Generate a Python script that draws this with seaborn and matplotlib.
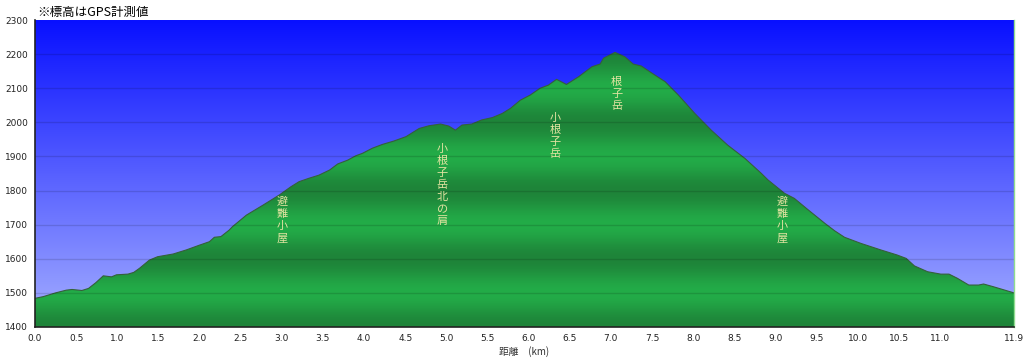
import numpy as np
import matplotlib
matplotlib.use("Agg")
import matplotlib.pyplot as plt
from matplotlib.path import Path
import seaborn as sns

# 距離 (km) と標高 (m)
dist_km = [0.00, 0.10, 0.25, 0.38, 0.45, 0.57, 0.65, 0.74, 0.83, 0.93, 0.99, 1.13, 1.20,
           1.27, 1.39, 1.49, 1.68, 1.84, 2.00, 2.12, 2.18, 2.26, 2.36, 2.40, 2.57, 2.77,
           2.97, 3.11, 3.21, 3.33, 3.45, 3.58, 3.68, 3.80, 3.90, 3.98, 4.10, 4.22, 4.36,
           4.51, 4.67, 4.79, 4.93, 5.03, 5.11, 5.19, 5.31, 5.43, 5.56, 5.68, 5.78, 5.90,
           6.02, 6.14, 6.24, 6.34, 6.46, 6.61, 6.77, 6.87, 6.91, 7.05, 7.17, 7.27, 7.37,
           7.50, 7.66, 7.82, 8.02, 8.22, 8.42, 8.63, 8.83, 8.91, 9.11, 9.23, 9.39, 9.60,
           9.72, 9.84, 10.04, 10.28, 10.48, 10.59, 10.69, 10.85, 11.01, 11.11, 11.21,
           11.35, 11.47, 11.53, 11.65, 11.90]
elev_m = [1484, 1489, 1500, 1508, 1510, 1507, 1513, 1530, 1550, 1547, 1553, 1555, 1560,
          1572, 1596, 1606, 1614, 1626, 1640, 1650, 1663, 1665, 1684, 1694, 1728, 1757,
          1787, 1811, 1826, 1836, 1845, 1860, 1878, 1889, 1902, 1909, 1924, 1935, 1945,
          1958, 1982, 1990, 1995, 1989, 1977, 1992, 1995, 2007, 2014, 2026, 2041, 2065,
          2080, 2100, 2109, 2126, 2111, 2134, 2163, 2171, 2188, 2205, 2192, 2171, 2165,
          2144, 2119, 2080, 2026, 1977, 1933, 1894, 1850, 1831, 1792, 1777, 1745, 1704,
          1682, 1663, 1645, 1626, 1611, 1601, 1579, 1562, 1555, 1555, 1543,
          1523, 1523, 1526, 1518, 1500]

# 地点名
place_names = ["避難小屋", "小根子岳北の肩", "小根子岳", "根子岳", "避難小屋"]
place_x = [3.0, 4.95, 6.32, 7.07, 9.08]
place_top = [1784, 1939, 2030, 2136, 1784]

x_ticks = [0.0, 0.5, 1.0, 1.5, 2.0, 2.5, 3.0, 3.5, 4.0, 4.5, 5.0, 5.5, 6.0, 6.5, 7.0,
           7.5, 8.0, 8.5, 9.0, 9.5, 10.0, 10.5, 11.0, 11.9]
y_ticks = [1400, 1500, 1600, 1700, 1800, 1900, 2000, 2100, 2200, 2300]

sns.set_style("white")
plt.rcParams['font.family'] = ['Noto Sans CJK JP', 'DejaVu Sans']

fig = plt.figure(figsize=(10.25, 3.58), dpi=100)
ax = fig.add_axes([35 / 1025, 1 - 327 / 358, 979 / 1025, 307 / 358])

xmin, xmax, ymin, ymax = 0, 11.9, 1400, 2300

# 背景（青のグラデーション）
t = np.linspace(0, 1, 256)[:, None]
top_c = np.array([8, 16, 255]) / 255
bot_c = np.array([165, 175, 255]) / 255
bg = (top_c * (1 - t) + bot_c * t)[:, None, :]
ax.imshow(bg, extent=[xmin, xmax, ymin, ymax], aspect="auto", zorder=0,
          interpolation="bilinear")

# 緑の帯（200 m周期の明暗）
e = np.linspace(ymax, ymin, 600)[:, None]
k = 0.5 + 0.5 * np.cos(np.pi * (e - 1500) / 100)
light = np.array([35, 172, 72]) / 255
dark = np.array([30, 132, 57]) / 255
green = (dark * (1 - k) + light * k)[:, None, :]

verts = np.vstack([np.column_stack([dist_km, elev_m]),
                   [[dist_km[-1], ymin], [dist_km[0], ymin]]])
im = ax.imshow(green, extent=[xmin, xmax, ymin, ymax], aspect="auto", zorder=1,
               interpolation="bilinear")
im.set_clip_path(Path(verts), transform=ax.transData)

sns.lineplot(x=dist_km, y=elev_m, color="#35603a", linewidth=0.8, ax=ax, zorder=2)

# グリッド
for yv in y_ticks[1:-1]:
    ax.axhline(yv, color="black", alpha=0.13, linewidth=1.0, zorder=3)

# 地点名（縦書き）
step = 35.2
for name, px, top in zip(place_names, place_x, place_top):
    for i, ch in enumerate(name):
        ax.text(px, top - (i + 0.5) * step, ch, color="#e4e4a2", fontsize=8,
                ha="center", va="center", zorder=4)

ax.set_xlim(xmin, xmax)
ax.set_ylim(ymin, ymax)
ax.set_xticks(x_ticks)
ax.set_xticklabels([f"{v:.1f}" for v in x_ticks], family=["DejaVu Sans"])
ax.set_yticks(y_ticks)
ax.set_yticklabels([str(v) for v in y_ticks], family=["DejaVu Sans"])
ax.tick_params(axis="both", labelsize=6.5, labelcolor="#222222", length=3,
               width=1, color="#222222", direction="out", pad=2)
ax.set_xlabel("距離　(km)", fontsize=7, color="#333333", labelpad=2)

for s in ["left", "bottom"]:
    ax.spines[s].set_color("#222222")
    ax.spines[s].set_linewidth(1.2)
ax.spines["top"].set_visible(False)
ax.spines["right"].set_color("#8fdc8f")
ax.spines["right"].set_linewidth(1.0)
for s in ax.spines.values():
    s.set_zorder(5)

fig.text(37 / 1025, 1 - 12 / 358, "※標高はGPS計測値", fontsize=9, color="black",
         ha="left", va="center")

fig.savefig("out.png", dpi=100)
